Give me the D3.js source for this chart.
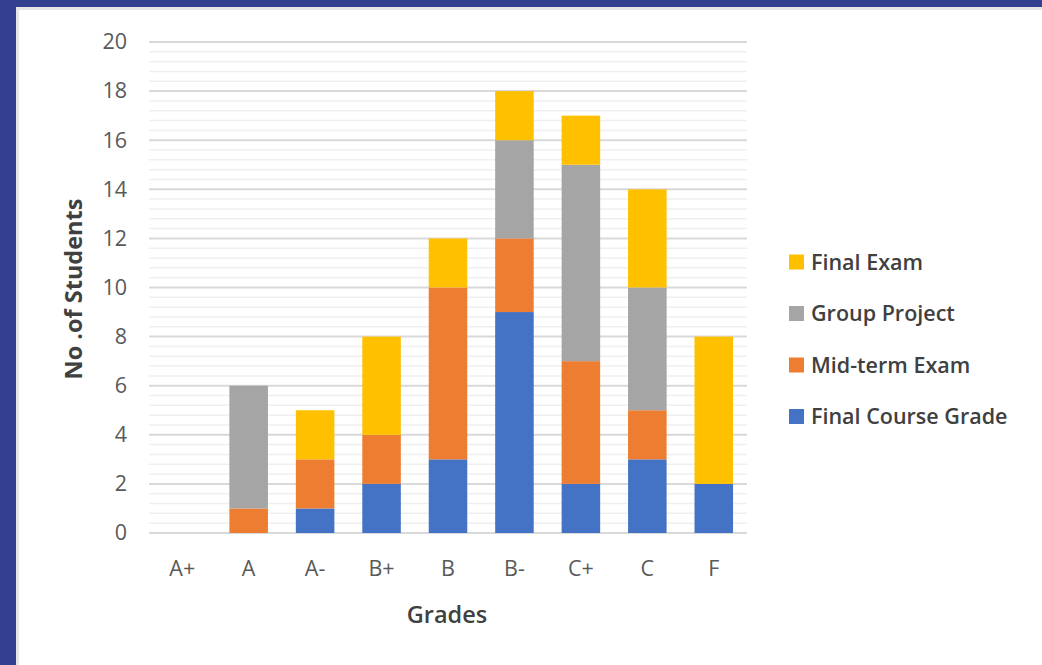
<!DOCTYPE html>
<html>
<head>
<meta charset="utf-8">
<script src="https://cdn.jsdelivr.net/npm/d3@7"></script>
<style>
  html, body { margin: 0; padding: 0; background: #fff; }
  svg { display: block; font-family: "Open Sans", sans-serif; }
</style>
</head>
<body>
<div id="chart"></div>
<script>
// 資料
const grades = ["A+", "A", "A-", "B+", "B", "B-", "C+", "C", "F"];
const seriesNames = ["Final Course Grade", "Mid-term Exam", "Group Project", "Final Exam"];
const finalCourseGrade = [0, 0, 1, 2, 3, 9, 2, 3, 2];
const midtermExam = [0, 1, 2, 2, 7, 3, 5, 2, 0];
const groupProject = [0, 5, 0, 0, 0, 4, 8, 5, 0];
const finalExam = [0, 0, 2, 4, 2, 2, 2, 4, 6];
const yTicks = [0, 2, 4, 6, 8, 10, 12, 14, 16, 18, 20];

const colors = {
  "Final Course Grade": "#4472c4",
  "Mid-term Exam": "#ed7d31",
  "Group Project": "#a5a5a5",
  "Final Exam": "#ffc000"
};

const W = 1042, H = 665;
const svg = d3.select("#chart").append("svg").attr("width", W).attr("height", H);

// 外框（左、上的深藍色邊）
svg.append("rect").attr("x", 0).attr("y", 0).attr("width", W).attr("height", 7).attr("fill", "#333f8f");
svg.append("rect").attr("x", 0).attr("y", 0).attr("width", 16).attr("height", H).attr("fill", "#333f8f");
svg.append("rect").attr("x", 16).attr("y", 7).attr("width", 3).attr("height", H).attr("fill", "#e6e6e6");
svg.append("rect").attr("x", 16).attr("y", 7).attr("width", W).attr("height", 3).attr("fill", "#e6e6e6");

const rows = grades.map((g, i) => ({
  grade: g,
  "Final Course Grade": finalCourseGrade[i],
  "Mid-term Exam": midtermExam[i],
  "Group Project": groupProject[i],
  "Final Exam": finalExam[i]
}));

const x = d3.scaleBand().domain(grades).range([149, 747]).paddingInner(0.42).paddingOuter(0.21);
const y = d3.scaleLinear().domain([0, 20]).range([533, 42]);

// 次要格線
const minor = d3.range(0, 20.001, 0.4).filter(v => Math.abs(v / 2 - Math.round(v / 2)) > 1e-6);
svg.append("g").selectAll("line").data(minor).enter().append("line")
  .attr("x1", 149).attr("x2", 747)
  .attr("y1", d => y(d)).attr("y2", d => y(d))
  .attr("stroke", "#efefef").attr("stroke-width", 1.5);

// 主要格線
svg.append("g").selectAll("line").data(yTicks).enter().append("line")
  .attr("x1", 149).attr("x2", 747)
  .attr("y1", d => y(d)).attr("y2", d => y(d))
  .attr("stroke", "#d9d9d9").attr("stroke-width", 2);

// 堆疊
const stack = d3.stack().keys(seriesNames);
const layers = stack(rows);

svg.append("g").selectAll("g").data(layers).enter().append("g")
  .attr("fill", d => colors[d.key])
  .selectAll("rect").data(d => d).enter().append("rect")
  .attr("x", d => x(d.data.grade))
  .attr("width", x.bandwidth())
  .attr("y", d => y(d[1]))
  .attr("height", d => y(d[0]) - y(d[1]));

// Y 軸刻度
const yAxis = svg.append("g").attr("transform", "translate(127,0)")
  .call(d3.axisLeft(y).tickValues(yTicks).tickSize(0).tickPadding(0));
yAxis.select(".domain").remove();
yAxis.selectAll("text").attr("fill", "#595959").attr("font-size", 21.5).attr("font-family", "Open Sans");

// X 軸刻度
const xAxis = svg.append("g").attr("transform", "translate(0,533)")
  .call(d3.axisBottom(x).tickSize(0).tickPadding(28));
xAxis.select(".domain").remove();
xAxis.selectAll("text").attr("fill", "#595959").attr("font-size", 21.5).attr("font-family", "Open Sans");

// 軸標題
svg.append("text")
  .attr("transform", "translate(74,289) rotate(-90)")
  .attr("text-anchor", "middle").attr("dy", "0.35em")
  .attr("font-size", 23.5).attr("font-weight", "bold").attr("fill", "#404040")
  .text("No .of Students");

svg.append("text")
  .attr("x", 447).attr("y", 615).attr("dy", "0.35em")
  .attr("text-anchor", "middle")
  .attr("font-size", 23.5).attr("font-weight", 600).attr("fill", "#404040")
  .text("Grades");

// 圖例
const legendOrder = ["Final Exam", "Group Project", "Mid-term Exam", "Final Course Grade"];
const legend = svg.append("g").selectAll("g").data(legendOrder).enter().append("g")
  .attr("transform", (d, i) => `translate(789,${262 + i * 51.5})`);
legend.append("rect").attr("x", 0).attr("y", -7.5).attr("width", 15).attr("height", 15)
  .attr("fill", d => colors[d]);
legend.append("text").attr("x", 22).attr("dy", "0.35em")
  .attr("font-size", 21.5).attr("font-weight", 600).attr("fill", "#404040")
  .text(d => d);
</script>
</body>
</html>
